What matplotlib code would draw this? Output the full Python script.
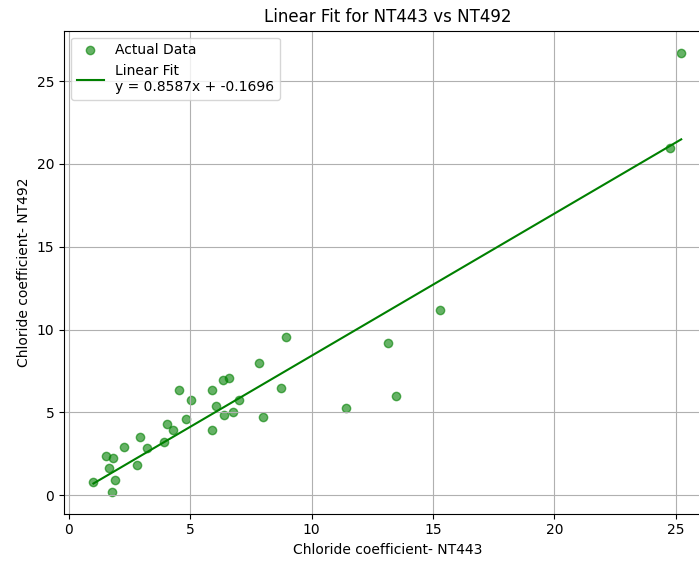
import numpy as np
import matplotlib
matplotlib.use("Agg")
import matplotlib.pyplot as plt

# values
nt443 = [1.01, 1.79, 1.90, 1.67, 1.53, 1.81, 2.28, 2.82, 2.94, 3.22,
         3.90, 4.03, 4.30, 4.55, 4.84, 5.01, 5.88, 5.88, 6.04, 6.36,
         6.58, 6.37, 6.74, 7.00, 7.84, 7.98, 8.75, 8.93, 11.41, 13.47,
         13.15, 15.28, 25.22, 24.77]
nt492 = [0.77, 0.20, 0.89, 1.61, 2.36, 2.26, 2.92, 1.79, 3.49, 2.86,
         3.22, 4.29, 3.95, 6.34, 4.61, 5.76, 6.34, 3.95, 5.38, 6.95,
         7.07, 4.82, 5.02, 5.76, 7.98, 4.73, 6.47, 9.57, 5.26, 5.98,
         9.17, 11.20, 26.73, 20.95]
slope = 0.8587
intercept = -0.1696

x = np.array(nt443)
y = np.array(nt492)

fig = plt.figure(figsize=(6.99, 5.61), dpi=100)
# the reference is cropped on the right, so the axes run past the figure edge
ax = fig.add_axes([0.0916, 0.0843, 0.925, 0.8612])

ax.scatter(x, y, color="green", alpha=0.6, label="Actual Data")
xs = np.array([x.min(), x.max()])
ax.plot(xs, slope * xs + intercept, color="green",
        label=f"Linear Fit\ny = {slope}x + {intercept}")

ax.set_title("Linear Fit for NT443 vs NT492")
ax.set_xlabel("Chloride coefficient- NT443")
ax.set_ylabel("Chloride coefficient- NT492")
ax.legend(loc="upper left")
ax.grid(True)

fig.savefig("out.png", dpi=100)
